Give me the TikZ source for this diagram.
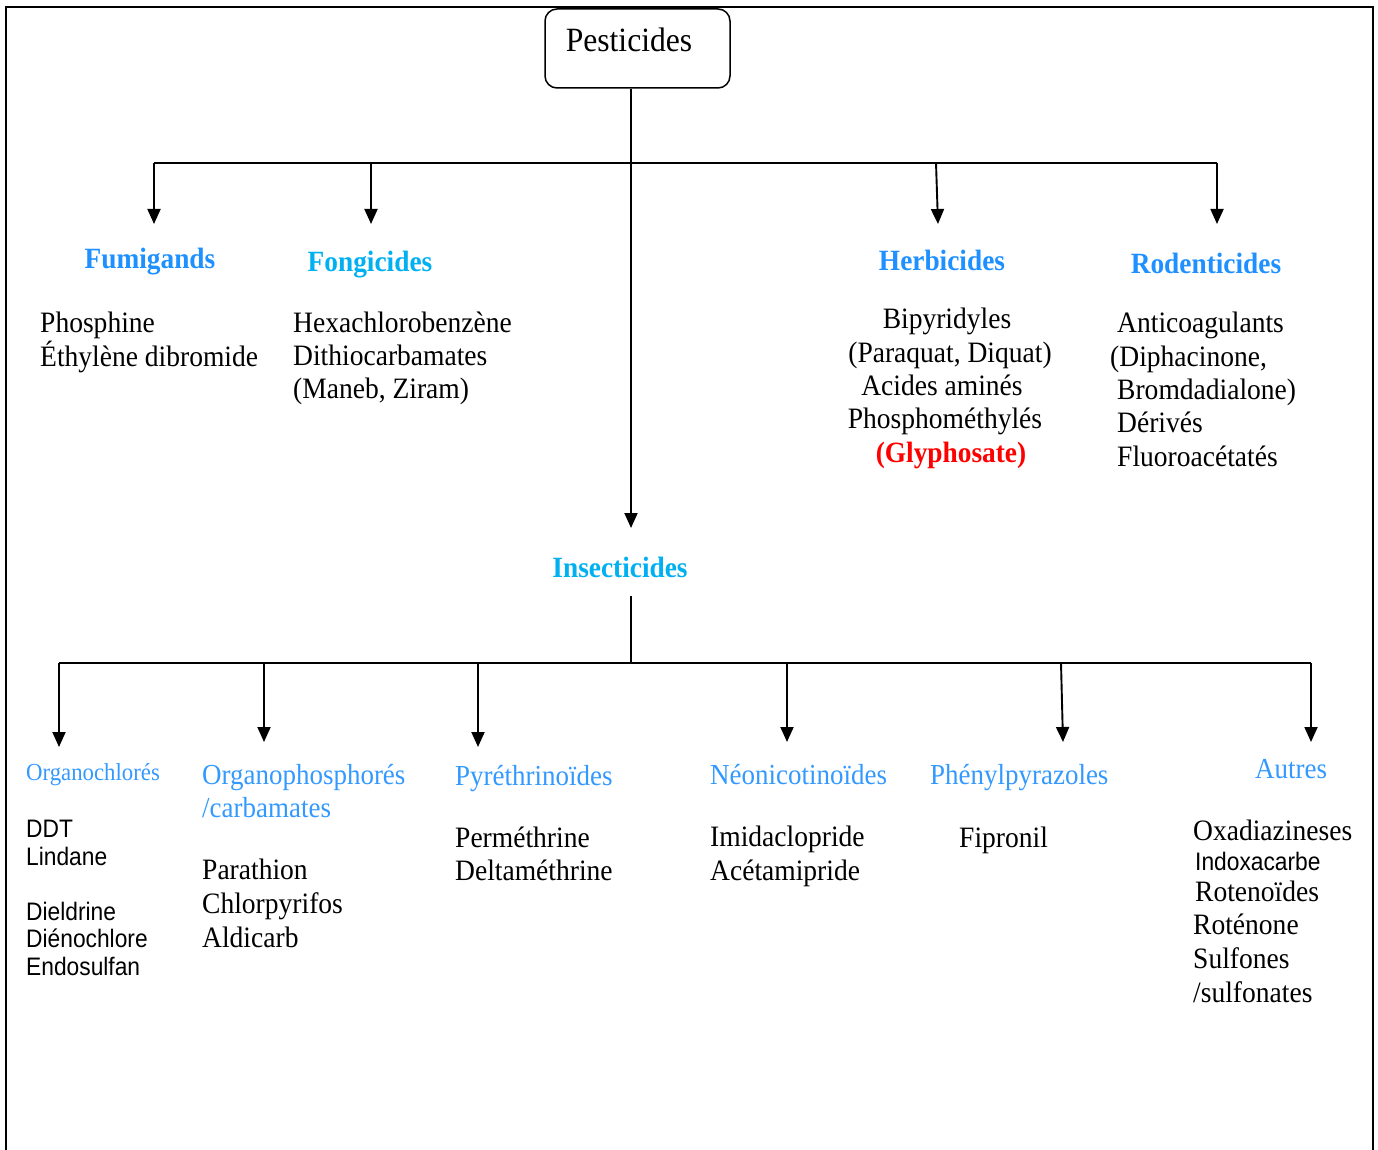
\documentclass[tikz,border=0pt]{standalone}
\usepackage{fontspec}
\setmainfont[FakeStretch=0.93]{Liberation Serif}
\newfontfamily\arialf[FakeStretch=0.9]{Liberation Sans}
\usetikzlibrary{arrows.meta}
\definecolor{blueA}{RGB}{30,144,255}
\definecolor{cyanA}{RGB}{0,176,240}
\definecolor{blueB}{RGB}{51,153,255}
\definecolor{redA}{RGB}{255,0,0}
\begin{document}
\begin{tikzpicture}[x=1pt,y=-1pt,
  conn/.style={line width=1.9pt},
  arr/.style={conn,-{Triangle[length=15pt,width=13pt]}},
  frameline/.style={line width=2pt},
  pbox/.style={draw,line width=1.5pt,rounded corners=12pt,minimum width=185pt,minimum height=79pt,inner sep=0pt},
  base/.style={inner sep=0pt,font=\fontsize{29.6}{34}\selectfont},
  txt/.style={base,anchor=base west},
  ctxt/.style={base,anchor=base},
  hA/.style={inner sep=0pt,anchor=base,font=\fontsize{29.4}{34}\selectfont\bfseries},
  hB/.style={inner sep=0pt,anchor=base west,text=blueB,font=\fontsize{29}{34}\selectfont},
  stxt/.style={inner sep=0pt,anchor=base west,font=\arialf\fontsize{25.3}{28}\selectfont}
]
\useasboundingbox (0,0) rectangle (1378,1150);
% frame
\draw[frameline] (6,1155) -- (6,7) -- (1373,7) -- (1373,1155);

% root
\node[pbox] (pest) at (637.5,48.5) {};
\node[inner sep=0pt,anchor=base,font=\fontsize{34}{38}\selectfont] (pestt) at (629,52) {Pesticides};

% top-level junctions and tips
\coordinate (jL) at (154,163);
\coordinate (jR) at (1217,163);
\coordinate (j2) at (371,163);
\coordinate (j3) at (936,163);
\coordinate (t1) at (154,224);
\coordinate (t2) at (371,224);
\coordinate (t3) at (938,224);
\coordinate (t4) at (1217,224);
\coordinate (tI) at (631,528);

\draw[conn] (jL) -- (jR);
\draw[arr] (pest.south -| tI) -- (tI);
\draw[arr] (jL) -- (t1);
\draw[arr] (j2) -- (t2);
\draw[arr] (j3) -- (t3);
\draw[arr] (jR) -- (t4);

% top-level headings
\node[hA,text=blueA] (fum) at (150,269) {Fumigands};
\node[hA,text=cyanA] (fon) at (370,272) {Fongicides};
\node[hA,text=blueA] (her) at (942,270) {Herbicides};
\node[hA,text=blueA] (rod) at (1206,273) {Rodenticides};

% Fumigands list
\node[txt] (f1) at (40,332) {Phosphine};
\node[txt] (f2) at (40,366) {Éthylène dibromide};
% Fongicides list
\node[txt] (g1) at (293,332) {Hexachlorobenzène};
\node[txt] (g2) at (293,365) {Dithiocarbamates};
\node[txt] (g3) at (293,398) {(Maneb, Ziram)};
% Herbicides list
\node[ctxt] (h1) at (947,328) {Bipyridyles};
\node[ctxt] (h2) at (950,362) {(Paraquat, Diquat)};
\node[ctxt] (h3) at (942,395) {Acides aminés};
\node[ctxt] (h4) at (945,428) {Phosphométhylés};
\node[ctxt,font=\fontsize{29.4}{34}\selectfont\bfseries,text=redA] (h5) at (951,462) {(Glyphosate)};
% Rodenticides list
\node[txt] (r1) at (1117,332) {Anticoagulants};
\node[txt] (r2) at (1110,366) {(Diphacinone,};
\node[txt] (r3) at (1117,399) {Bromdadialone)};
\node[txt] (r4) at (1117,432) {Dérivés};
\node[txt] (r5) at (1117,466) {Fluoroacétatés};

% Insecticides
\node[hA,text=cyanA] (ins) at (620,577) {Insecticides};
\coordinate (iTop) at (631,596);
\coordinate (iMid) at (631,663);
\draw[conn] (iTop) -- (iMid);

\coordinate (kL) at (59,663);
\coordinate (kR) at (1311,663);
\coordinate (k2) at (264,663);
\coordinate (k3) at (478,663);
\coordinate (k4) at (787,663);
\coordinate (k5) at (1061,663);
\coordinate (u1) at (59,747);
\coordinate (u2) at (264,742);
\coordinate (u3) at (478,747);
\coordinate (u4) at (787,742);
\coordinate (u5) at (1063,742);
\coordinate (u6) at (1311,742);
\draw[conn] (kL) -- (kR);
\draw[arr] (kL) -- (u1);
\draw[arr] (k2) -- (u2);
\draw[arr] (k3) -- (u3);
\draw[arr] (k4) -- (u4);
\draw[arr] (k5) -- (u5);
\draw[arr] (kR) -- (u6);

% lower headings
\node[hB,font=\fontsize{24.5}{28}\selectfont] (oc) at (26,780) {Organochlorés};
\node[hB] (op) at (202,784) {Organophosphorés};
\node[hB] (op2) at (202,817) {/carbamates};
\node[hB] (py) at (455,785) {Pyréthrinoïdes};
\node[hB] (ne) at (710,784) {Néonicotinoïdes};
\node[hB] (ph) at (930,784) {Phénylpyrazoles};
\node[hB] (au) at (1255,778) {Autres};

% Organochlorés list
\node[stxt] (o1) at (26,837) {DDT};
\node[stxt] (o2) at (26,865) {Lindane};
\node[stxt] (o3) at (26,920) {Dieldrine};
\node[stxt] (o4) at (26,947) {Diénochlore};
\node[stxt] (o5) at (26,975) {Endosulfan};
% Organophosphorés list
\node[txt] (p1) at (202,879) {Parathion};
\node[txt] (p2) at (202,913) {Chlorpyrifos};
\node[txt] (p3) at (202,947) {Aldicarb};
% Pyréthrinoïdes list
\node[txt] (y1) at (455,847) {Perméthrine};
\node[txt] (y2) at (455,880) {Deltaméthrine};
% Néonicotinoïdes list
\node[txt] (n1) at (710,846) {Imidaclopride};
\node[txt] (n2) at (710,880) {Acétamipride};
% Phénylpyrazoles list
\node[txt] (z1) at (959,847) {Fipronil};
% Autres list
\node[txt] (a1) at (1193,840) {Oxadiazineses};
\node[stxt] (a2) at (1195,870) {Indoxacarbe};
\node[txt] (a3) at (1195,901) {Rotenoïdes};
\node[txt] (a4) at (1193,934) {Roténone};
\node[txt] (a5) at (1193,968) {Sulfones};
\node[txt] (a6) at (1193,1002) {/sulfonates};
\end{tikzpicture}
\end{document}
